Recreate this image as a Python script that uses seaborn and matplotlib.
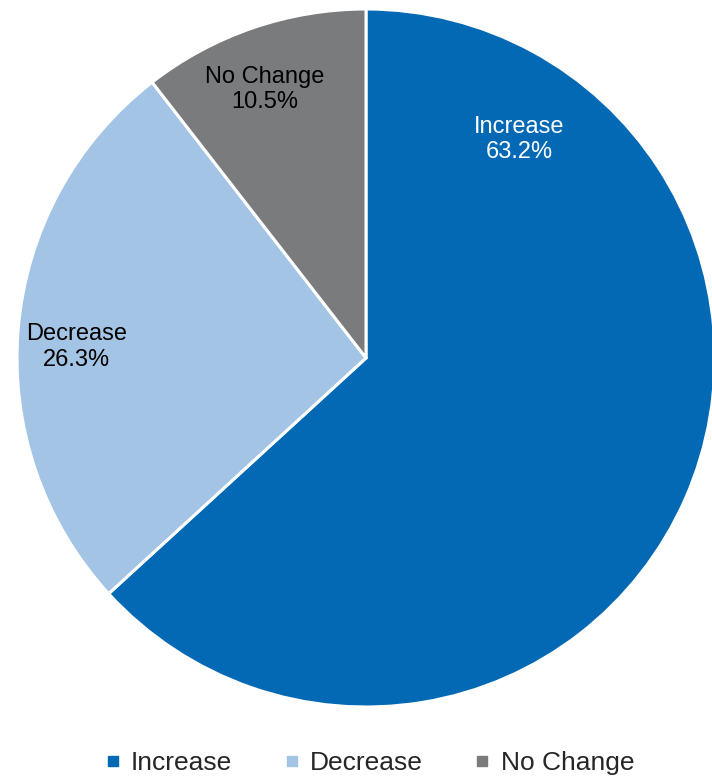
import matplotlib
matplotlib.use("Agg")
import matplotlib.pyplot as plt
from matplotlib.lines import Line2D
import seaborn as sns

categories = ["Increase", "Decrease", "No Change"]
values = [63.2, 26.3, 10.5]
colors = ["#0369B5", "#A3C4E4", "#7A7B7D"]
text_colors = ["white", "black", "black"]

sns.set_style("white")
plt.rcParams["font.family"] = ["Liberation Sans", "DejaVu Sans"]

fig = plt.figure(figsize=(7.12, 7.78), dpi=100)
W, H = 712, 778
cx, cy, r = 366, 358, 349
ax = fig.add_axes([(cx - r) / W, (H - cy - r) / H, 2 * r / W, 2 * r / H])
wedges, _ = ax.pie(values, colors=colors, startangle=90, counterclock=False,
                   radius=1, wedgeprops=dict(edgecolor="white", linewidth=2.2))
for w in wedges:
    w.set_clip_on(False)
ax.set_xlim(-1, 1)
ax.set_ylim(-1, 1)
ax.set_aspect("equal")
ax.axis("off")

label_pos = [(0.44, 0.626), (-0.83, 0.032), (-0.29, 0.769)]
for cat, v, (x, y), tc in zip(categories, values, label_pos, text_colors):
    ax.text(x, y, f"{cat}\n{v:.1f}%", ha="center", va="center",
            fontsize=17, color=tc, linespacing=1.22)

handles = [Line2D([0], [0], marker="s", linestyle="none", markersize=7,
                  markerfacecolor=c, markeredgecolor=c) for c in colors]
fig.legend(handles, categories, loc="center", ncol=3,
           bbox_to_anchor=(0.52, (H - 763) / H), frameon=False,
           fontsize=19, handlelength=0.5, handletextpad=0.45,
           columnspacing=2.0)

fig.savefig("out.png", dpi=100)
